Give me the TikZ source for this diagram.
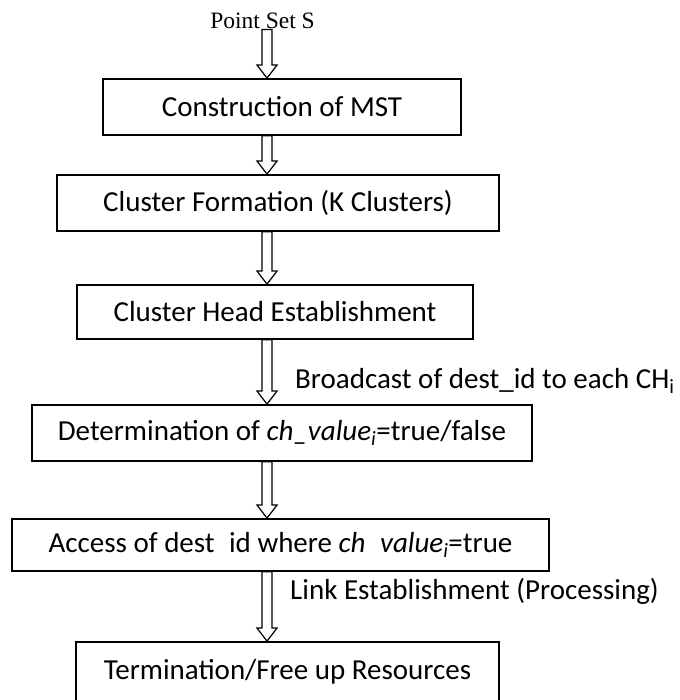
\documentclass[tikz,border=0pt]{standalone}
\usepackage{fontspec}
\setmainfont{Carlito}
\newfontfamily\timesfont{Liberation Serif}
\usepackage{tikz}
\usetikzlibrary{calc, positioning}
\newcommand{\stagefont}{\fontsize{29pt}{35pt}\selectfont}
\tikzstyle{stage} = [rectangle, minimum height=56pt, text centered, draw=black, line width=1.8pt, font=\stagefont]
\tikzstyle{fatarrow} = [draw=black, line width=1.2pt, line join=miter]
\tikzstyle{note} = [anchor=west, inner sep=0pt, font=\stagefont]
% hollow block arrow from #1 down to #2
\newcommand{\hollowarrow}[2]{%
  \draw [fatarrow] let \p1=(#1), \p2=(#2) in
    (\x1-5pt,\y1) -- (\x1-5pt,\y2+13pt) -- (\x1-10pt,\y2+13pt) -- (\x2,\y2)
    -- (\x1+10pt,\y2+13pt) -- (\x1+5pt,\y2+13pt) -- (\x1+5pt,\y1) -- cycle;}

\begin{document}
\begin{tikzpicture}[x=1pt, y=1pt, node distance=96pt]
    \useasboundingbox (0,0) rectangle (679,700);
    \clip (0,0) rectangle (679,700);
    \coordinate (axis) at (267,0);
    \node (pts) [anchor=base, inner sep=0pt, font=\timesfont\fontsize{23.5pt}{28pt}\selectfont] at (262.5,671) {Point Set S};
    \node (mst) [stage, minimum width=358pt] at (282,593) {Construction of MST};
    \node (form) [stage, minimum width=442pt, below of=mst, xshift=-4pt] {Cluster Formation (K Clusters)};
    \node (head) [stage, minimum width=396pt, minimum height=54pt, below of=form, yshift=-13pt, xshift=-3pt] {Cluster Head Establishment};
    \node (determ) [stage, minimum width=500pt, below of=head, yshift=-25pt, xshift=7pt] {Determination of \textit{ch\_value\textsubscript{i}}=true/false};
    \node (access) [stage, minimum width=537pt, minimum height=52pt, below of=determ, yshift=-16pt, xshift=-1.5pt] {Access of dest\phantom{\_}id where \textit{ch\phantom{\_}value\textsubscript{i}}=true};
    \node (term) [stage, minimum width=423pt, minimum height=60pt, below of=access, yshift=-31pt, xshift=7pt] {Termination/Free up Resources};

    \hollowarrow{pts.south -| axis}{mst.north -| axis}
    \hollowarrow{mst.south -| axis}{form.north -| axis}
    \hollowarrow{form.south -| axis}{head.north -| axis}
    \hollowarrow{head.south -| axis}{determ.north -| axis}
    \hollowarrow{determ.south -| axis}{access.north -| axis}
    \hollowarrow{access.south -| axis}{term.north -| axis}
    % arrow labels
    \node (bcast) [note] at (295,319) {Broadcast of dest\_id to each CH\textsubscript{i}};
    \node (link) [note] at (290,109) {Link Establishment (Processing)};
\end{tikzpicture}
\end{document}
